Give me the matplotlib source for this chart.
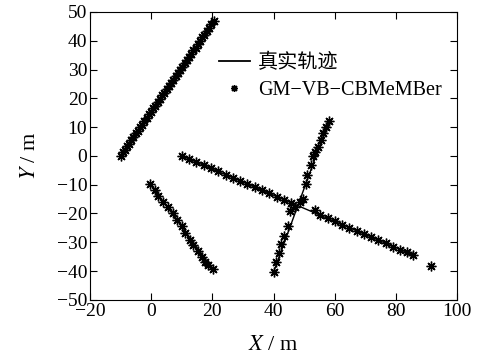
import matplotlib
matplotlib.use("Agg")
import matplotlib.pyplot as plt

plt.rcParams['font.family'] = ['Liberation Serif', 'Noto Sans CJK SC']
plt.rcParams['mathtext.fontset'] = 'stix'
plt.rcParams['axes.unicode_minus'] = True

# ---- data ----
# true tracks (waypoints)
true1_x = [-10.0, 20.6]
true1_y = [0.0, 47.0]
true2_x = [-0.4, 10.0, 20.1]
true2_y = [-9.7, -24.5, -39.3]
true3_x = [10.0, 86.0]
true3_y = [0.0, -34.6]
true4_x = [40.0, 58.1]
true4_y = [-40.4, 12.2]

# estimates (GM-VB-CBMeMBer)
est1_x = [-10.0, -9.3, -8.6, -7.9, -7.2, -6.5, -5.8, -5.0, -4.3, -3.6, -2.9, -2.2,
          -1.5, -0.8, 0.0, 0.7, 1.4, 2.2, 2.9, 3.6, 4.3, 5.1, 5.8, 6.5, 7.2, 8.0,
          8.7, 9.4, 10.1, 10.9, 11.6, 12.3, 13.0, 13.8, 14.5, 15.2, 15.9, 16.7,
          17.4, 18.1, 18.8, 19.6, 20.4]
est1_y = [0.0, 1.2, 2.1, 3.3, 4.2, 5.5, 6.4, 7.8, 8.7, 10.0, 10.8, 12.2, 13.0,
          14.4, 15.3, 16.6, 17.5, 18.9, 19.8, 21.0, 21.9, 23.4, 24.2, 25.5, 26.4,
          27.8, 28.7, 29.9, 30.8, 32.2, 33.2, 34.4, 35.3, 36.7, 37.6, 38.9, 39.8,
          41.2, 42.1, 43.4, 44.3, 45.7, 46.7]
est2_x = [-0.4, 1.2, 2.3, 4.0, 5.6, 7.2, 8.3, 10.0, 11.0, 12.7, 13.8, 15.4, 16.5,
          17.6, 18.7, 20.1]
est2_y = [-9.7, -12.0, -14.1, -15.9, -17.8, -19.9, -22.2, -24.5, -26.8, -29.2,
          -30.9, -33.2, -35.0, -36.7, -37.8, -39.3]
est3_x = [10.0, 12.4, 14.8, 17.2, 19.5, 21.9, 24.3, 26.7, 29.0, 31.4, 33.8, 36.2,
          38.6, 41.0, 43.3, 45.7, 53.5, 55.3, 57.7, 60.0, 62.4, 64.8, 67.2, 69.6,
          71.9, 74.3, 76.7, 79.1, 81.4, 83.8, 85.5, 91.6]
est3_y = [0.0, -1.1, -2.2, -3.3, -4.3, -5.4, -6.5, -7.6, -8.7, -9.8, -10.9, -11.9,
          -13.0, -14.2, -15.3, -16.2, -18.7, -20.6, -21.7, -22.7, -23.9, -24.9,
          -26.1, -27.2, -28.2, -29.3, -30.3, -31.5, -32.6, -33.5, -34.4, -38.4]
est4_x = [40.1, 40.8, 41.7, 42.6, 43.4, 44.8, 45.4, 47.0, 48.6, 49.7, 50.5, 51.0,
          52.1, 53.0, 53.5, 54.6, 55.5, 56.3, 57.2, 58.1]
est4_y = [-40.2, -37.0, -33.8, -30.6, -27.8, -24.3, -19.3, -17.6, -15.9, -15.0,
          -9.7, -6.6, -3.1, -0.2, 1.5, 3.2, 5.5, 7.8, 10.0, 12.2]

xticks = [-20, 0, 20, 40, 60, 80, 100]
yticks = [-50, -40, -30, -20, -10, 0, 10, 20, 30, 40, 50]

fig = plt.figure(figsize=(4.79, 3.63), dpi=100)
ax = fig.add_axes([0.188, 0.174, 0.766, 0.793])

star = (8, 2, 0)
for tx, ty in [(true1_x, true1_y), (true2_x, true2_y), (true3_x, true3_y), (true4_x, true4_y)]:
    ax.plot(tx, ty, color='black', lw=1.0)
for ex, ey in [(est1_x, est1_y), (est2_x, est2_y), (est3_x, est3_y), (est4_x, est4_y)]:
    ax.plot(ex, ey, ls='none', marker=star, ms=7, color='black', mew=1.0)

h1, = ax.plot([], [], color='black', lw=1.3, label='真实轨迹')
h2, = ax.plot([], [], ls='none', marker=star, ms=5, color='black', mew=1.0,
              label='GM−VB−CBMeMBer')
ax.legend(handles=[h1, h2], loc='upper right', bbox_to_anchor=(0.985, 0.89),
          frameon=False, fontsize=14.5, numpoints=1, handlelength=1.5,
          handletextpad=0.4, labelspacing=0.4, borderaxespad=0.1)

ax.set_xlim(-20, 100)
ax.set_ylim(-50, 50)
ax.set_xticks(xticks)
ax.set_yticks(yticks)
ax.tick_params(direction='in', top=True, right=True, length=5, width=0.8,
               labelsize=14, pad=2)
for s in ax.spines.values():
    s.set_linewidth(0.8)
ax.set_xlabel(r'$\mathit{X}$ / m', fontsize=16, labelpad=12)
ax.set_ylabel(r'$\mathit{Y}$ / m', fontsize=16, labelpad=12)

fig.savefig('out.png', dpi=100)
